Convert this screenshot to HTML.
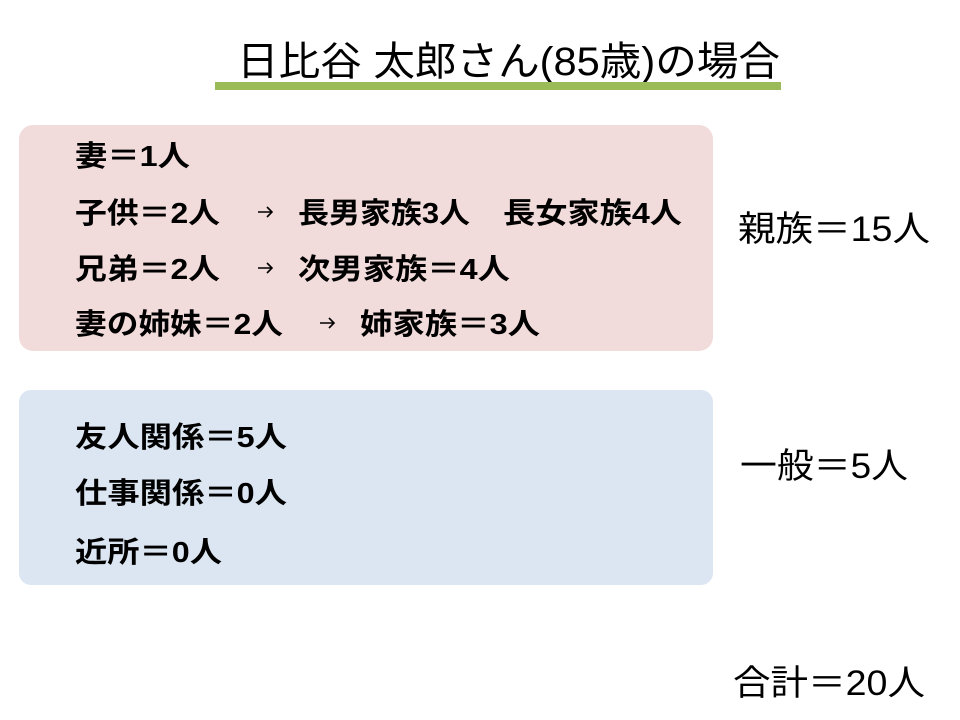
<!DOCTYPE html>
<html><head><meta charset="utf-8"><style>
html,body{margin:0;padding:0;background:#fff;}
svg{display:block;}
text{font-family:"Liberation Sans","Noto Sans CJK JP",sans-serif;fill:#000;}
.b{font-weight:bold;font-size:29px;}
.r{font-size:35px;}
</style></head><body>
<svg width="960" height="720" xmlns="http://www.w3.org/2000/svg">
<text x="237" y="75" font-size="40" textLength="543" lengthAdjust="spacingAndGlyphs">日比谷 太郎さん(85歳)の場合</text>
<rect x="215" y="82" width="566" height="8" fill="#9bbb59"/>
<rect x="19" y="125" width="694" height="226" rx="14" fill="#f2dcdb"/>
<rect x="19" y="390" width="694" height="195" rx="12" fill="#dce6f2"/>
<g class="b">
<text x="75" y="166" textLength="115" lengthAdjust="spacingAndGlyphs">妻＝1人</text>
<text x="75" y="223" textLength="145" lengthAdjust="spacingAndGlyphs">子供＝2人</text>
<text x="298" y="223" textLength="172" lengthAdjust="spacingAndGlyphs">長男家族3人</text>
<text x="503" y="223" textLength="179" lengthAdjust="spacingAndGlyphs">長女家族4人</text>
<text x="75" y="279" textLength="145" lengthAdjust="spacingAndGlyphs">兄弟＝2人</text>
<text x="298" y="279" textLength="212" lengthAdjust="spacingAndGlyphs">次男家族＝4人</text>
<text x="75" y="334" textLength="208" lengthAdjust="spacingAndGlyphs">妻の姉妹＝2人</text>
<text x="360" y="334" textLength="180" lengthAdjust="spacingAndGlyphs">姉家族＝3人</text>
<text x="75" y="447" textLength="212" lengthAdjust="spacingAndGlyphs">友人関係＝5人</text>
<text x="75" y="503" textLength="212" lengthAdjust="spacingAndGlyphs">仕事関係＝0人</text>
<text x="75" y="562" textLength="147" lengthAdjust="spacingAndGlyphs">近所＝0人</text>
</g>
<g stroke="#000" stroke-width="1.6" fill="none">
<path d="M258 212 H272 M267 207 L272 212 L267 217"/>
<path d="M258 268 H272 M267 263 L272 268 L267 273"/>
<path d="M320 323 H334 M329 318 L334 323 L329 328"/>
</g>
<g class="r">
<text x="738" y="241" textLength="192" lengthAdjust="spacingAndGlyphs">親族＝15人</text>
<text x="740" y="478" textLength="168" lengthAdjust="spacingAndGlyphs">一般＝5人</text>
<text x="733" y="695" textLength="192" lengthAdjust="spacingAndGlyphs">合計＝20人</text>
</g>
</svg>
</body></html>
